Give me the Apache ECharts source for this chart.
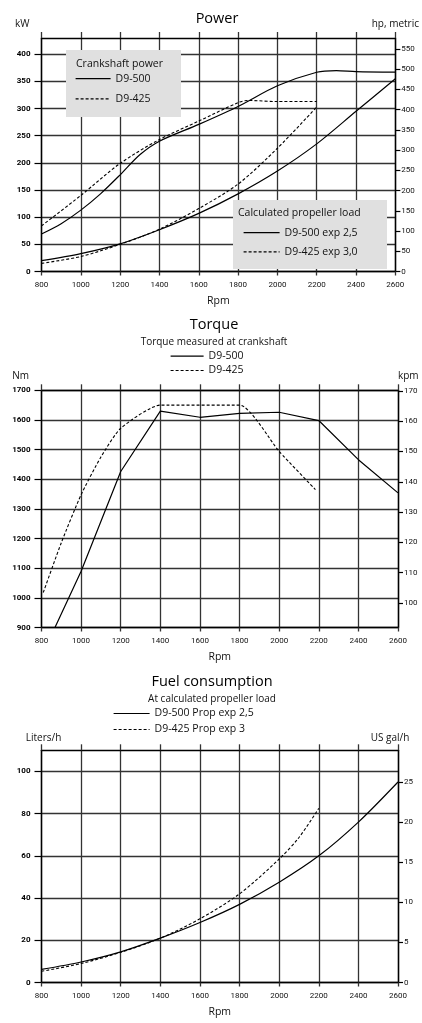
<!DOCTYPE html>
<html>
<head>
<meta charset="utf-8">
<script src="https://cdn.jsdelivr.net/npm/echarts@6/dist/echarts.min.js"></script>
<style>
body{margin:0;background:#fff}
#power,#torque,#fuel{width:422px}
#power{height:312px}
#torque{height:356px}
#fuel{height:355px}
</style>
</head>
<body>
<div id="power"></div>
<div id="torque"></div>
<div id="fuel"></div>
<script>
// --- data ---
var rpmTicks = [800, 1000, 1200, 1400, 1600, 1800, 2000, 2200, 2400, 2600];

// Power, kW
var crankRpm500 = [800, 900, 1000, 1100, 1200, 1300, 1400, 1600, 1800, 2000, 2200, 2300, 2400, 2600];
var crankKw500  = [69, 88, 113, 143, 178, 215, 240, 271, 304, 342, 367, 370, 368, 367];
var crankRpm425 = [800, 1000, 1200, 1400, 1600, 1800, 1850, 2000, 2200];
var crankKw425  = [84, 140, 199, 243, 277, 311, 315, 313, 313];
var propRpm500  = [800, 1000, 1200, 1400, 1600, 1800, 2000, 2200, 2400, 2600];
var propKw500   = [20, 33, 51, 77, 107, 143, 185, 235, 295, 355];
var propRpm425  = [800, 1000, 1200, 1400, 1600, 1800, 2000, 2200];
var propKw425   = [15, 27.6, 50, 78, 116, 161, 227, 303];
var kwTicks = [0, 50, 100, 150, 200, 250, 300, 350, 400];
var hpTicks = [0, 50, 100, 150, 200, 250, 300, 350, 400, 450, 500, 550];

// Torque, Nm
var tqRpm500 = [868, 1000, 1200, 1400, 1600, 1800, 2000, 2200, 2400, 2600];
var tqNm500  = [900, 1090, 1426, 1630, 1609, 1622, 1626, 1598, 1466, 1354];
var tqRpm425 = [809, 900, 1000, 1100, 1200, 1400, 1800, 2000, 2183];
var tqNm425  = [1018, 1186, 1348, 1475, 1572, 1650, 1650, 1494, 1365];
var nmTicks  = [900, 1000, 1100, 1200, 1300, 1400, 1500, 1600, 1700];
var kpmTicks = [100, 110, 120, 130, 140, 150, 160, 170];

// Fuel, liters/h
var fuelRpm500 = [800, 1000, 1200, 1400, 1600, 1800, 2000, 2200, 2400, 2600];
var fuelL500   = [6.2, 9.7, 14.5, 21, 28.4, 37, 47.5, 60, 76, 95];
var fuelRpm425 = [800, 1000, 1200, 1400, 1600, 1800, 2000, 2100, 2200];
var fuelL425   = [5.3, 9, 14.3, 21, 30.2, 42, 58.5, 68.7, 82.5];
var literTicks = [0, 20, 40, 60, 80, 100];
var galTicks   = [0, 5, 10, 15, 20, 25];

var FONT = "'Open Sans', sans-serif";
var LABEL_FONT = "Roboto, sans-serif";
var GRID_LINE = {color: '#333', width: 1.3};
var DASH = [3, 2];

function pairs(xs, ys) {
  return xs.map(function (x, i) { return [x, ys[i]]; });
}
// 不要千位分隔符
function plain(v) { return String(v); }

// bottom rpm axis + top axis that closes the frame (its ticks stick out upward)
function rpmAxes() {
  return [
    {
      type: 'value', min: 800, max: 2600, interval: 200, position: 'bottom',
      name: 'Rpm', nameLocation: 'middle', nameGap: 30,
      nameTextStyle: {fontFamily: FONT, fontSize: 10.5, color: '#111', verticalAlign: 'middle'},
      axisLine: {onZero: false, lineStyle: {color: '#000', width: 1.4}},
      axisTick: {show: true, length: 4, lineStyle: GRID_LINE},
      axisLabel: {fontFamily: LABEL_FONT, fontSize: 8, color: '#111', margin: 9,
                  customValues: rpmTicks, formatter: plain},
      splitLine: {show: true, lineStyle: GRID_LINE}
    },
    {
      type: 'value', min: 800, max: 2600, interval: 200, position: 'top',
      axisLine: {onZero: false, lineStyle: {color: '#000', width: 1.4}},
      axisTick: {show: true, length: 6, lineStyle: GRID_LINE},
      axisLabel: {show: false},
      splitLine: {show: false}
    }
  ];
}

function leftAxis(min, max, interval, ticks, name, gap, nameStyle) {
  return {
    type: 'value', min: min, max: max, interval: interval, position: 'left',
    name: name, nameLocation: 'end', nameGap: gap,
    nameTextStyle: Object.assign({fontFamily: FONT, fontSize: 10, color: '#111', verticalAlign: 'middle'}, nameStyle),
    axisLine: {show: true, onZero: false, lineStyle: {color: '#000', width: 1.4}},
    axisTick: {show: true, length: 7, customValues: ticks, lineStyle: {color: '#000', width: 1.2}},
    axisLabel: {customValues: ticks, fontFamily: LABEL_FONT, fontSize: 8, fontWeight: 'bold',
                color: '#000', margin: 11, formatter: plain},
    splitLine: {show: true, lineStyle: GRID_LINE}
  };
}

function rightAxis(min, max, ticks, name, gap, nameStyle) {
  return {
    type: 'value', min: min, max: max, position: 'right',
    name: name, nameLocation: 'end', nameGap: gap,
    nameTextStyle: Object.assign({fontFamily: FONT, fontSize: 10, color: '#111', verticalAlign: 'middle'}, nameStyle),
    axisLine: {show: true, onZero: false, lineStyle: {color: '#000', width: 1.4}},
    axisTick: {show: true, length: 5, customValues: ticks, lineStyle: {color: '#000', width: 1.2}},
    axisLabel: {customValues: ticks, fontFamily: LABEL_FONT, fontSize: 8, color: '#111', margin: 6,
                formatter: plain},
    splitLine: {show: false}
  };
}

function lineSeries(name, xs, ys, dashed, smooth) {
  return {
    name: name, type: 'line', data: pairs(xs, ys),
    xAxisIndex: 0, yAxisIndex: 0,
    symbol: 'none', smooth: smooth, z: 2,
    itemStyle: {color: '#000'},
    lineStyle: {color: '#000', width: dashed ? 1.1 : 1.2, type: dashed ? DASH : 'solid'}
  };
}

function legendAt(left, top, names, itemWidth, itemHeight, gap, fontSize) {
  return {
    left: left, top: top, orient: 'vertical', padding: 0,
    itemWidth: itemWidth, itemHeight: itemHeight, itemGap: gap,
    data: names, selectedMode: false,
    itemStyle: {opacity: 0},   // 只要线段，不要圆点
    lineStyle: {width: 1.2},
    textStyle: {fontFamily: FONT, fontSize: fontSize, color: '#111'}
  };
}

// 功率
function drawPower() {
  var myChart = echarts.init(document.getElementById('power'));
  var option = {
    animation: false,
    title: {
      text: 'Power', left: 217, top: 11, textAlign: 'center', padding: 0,
      textStyle: {fontFamily: FONT, fontSize: 14.5, fontWeight: 'normal', color: '#000', lineHeight: 16}
    },
    grid: {left: 41.5, top: 38, width: 356.5, height: 238},
    xAxis: rpmAxes(),
    yAxis: [
      leftAxis(0, 430, 50, kwTicks, 'kW', 14, {align: 'right', padding: [0, 12, 0, 0]}),
      rightAxis(0, 577, hpTicks, 'hp, metric', 14, {align: 'center'})
    ],
    legend: [
      legendAt(75, 73, ['D9-500', 'D9-425'], 35, 14, 9, 10.5),
      legendAt(243, 227, ['D9-500 exp 2,5', 'D9-425 exp 3,0'], 36, 14, 8, 10.5)
    ],
    graphic: [
      {type: 'rect', shape: {x: 66, y: 50, width: 115, height: 67}, style: {fill: '#e0e0e0'}, z: 3},
      {type: 'text', x: 76, y: 64, z: 6,
       style: {text: 'Crankshaft power', fill: '#111', font: '10.5px ' + FONT, verticalAlign: 'middle'}},
      {type: 'rect', shape: {x: 233, y: 200, width: 154, height: 69}, style: {fill: '#e0e0e0'}, z: 3},
      {type: 'text', x: 238, y: 213, z: 6,
       style: {text: 'Calculated propeller load', fill: '#111', font: '10.5px ' + FONT, verticalAlign: 'middle'}}
    ],
    series: [
      lineSeries('D9-500', crankRpm500, crankKw500, false, 0.3),
      lineSeries('D9-425', crankRpm425, crankKw425, true, 0.3),
      lineSeries('D9-500 exp 2,5', propRpm500, propKw500, false, 0.3),
      lineSeries('D9-425 exp 3,0', propRpm425, propKw425, true, 0.3)
    ]
  };
  myChart.setOption(option);
}

// 扭矩
function drawTorque() {
  var myChart = echarts.init(document.getElementById('torque'));
  var option = {
    animation: false,
    title: {
      text: 'Torque', subtext: 'Torque measured at crankshaft',
      left: 214, top: 5, textAlign: 'center', padding: 0, itemGap: 3,
      textStyle: {fontFamily: FONT, fontSize: 14.5, fontWeight: 'normal', color: '#000', lineHeight: 16},
      subtextStyle: {fontFamily: FONT, fontSize: 10, color: '#111', lineHeight: 12}
    },
    grid: {left: 41.5, top: 78.3, width: 356.5, height: 238},
    xAxis: rpmAxes(),
    yAxis: [
      leftAxis(900, 1700, 100, nmTicks, 'Nm', 14.6, {align: 'right', padding: [0, 12.5, 0, 0]}),
      rightAxis(91.9, 170.2, kpmTicks, 'kpm', 14.6, {align: 'left'})
    ],
    legend: legendAt(170, 38.7, ['D9-500', 'D9-425'], 33, 12, 3.3, 10.5),
    series: [
      lineSeries('D9-500', tqRpm500, tqNm500, false, false),
      lineSeries('D9-425', tqRpm425, tqNm425, true, 0.2)
    ]
  };
  myChart.setOption(option);
}

// 油耗
function drawFuel() {
  var myChart = echarts.init(document.getElementById('fuel'));
  var option = {
    animation: false,
    title: {
      text: 'Fuel consumption', subtext: 'At calculated propeller load',
      left: 212, top: 6, textAlign: 'center', padding: 0, itemGap: 3,
      textStyle: {fontFamily: FONT, fontSize: 14.5, fontWeight: 'normal', color: '#000', lineHeight: 16},
      subtextStyle: {fontFamily: FONT, fontSize: 10, color: '#111', lineHeight: 12}
    },
    grid: {left: 41.5, top: 82.3, width: 356.5, height: 238.4},
    xAxis: rpmAxes(),
    yAxis: [
      leftAxis(0, 110, 20, literTicks, 'Liters/h', 12.3, {align: 'center', padding: [0, 0, 0, 4]}),
      rightAxis(0, 29.0, galTicks, 'US gal/h', 12.3, {align: 'center', padding: [0, 16, 0, 0]})
    ],
    legend: legendAt(113, 40, ['D9-500 Prop exp 2,5', 'D9-425 Prop exp 3'], 36, 12, 5, 10.5),
    series: [
      lineSeries('D9-500 Prop exp 2,5', fuelRpm500, fuelL500, false, 0.3),
      lineSeries('D9-425 Prop exp 3', fuelRpm425, fuelL425, true, 0.3)
    ]
  };
  myChart.setOption(option);
}

drawPower();
drawTorque();
drawFuel();
</script>
</body>
</html>
